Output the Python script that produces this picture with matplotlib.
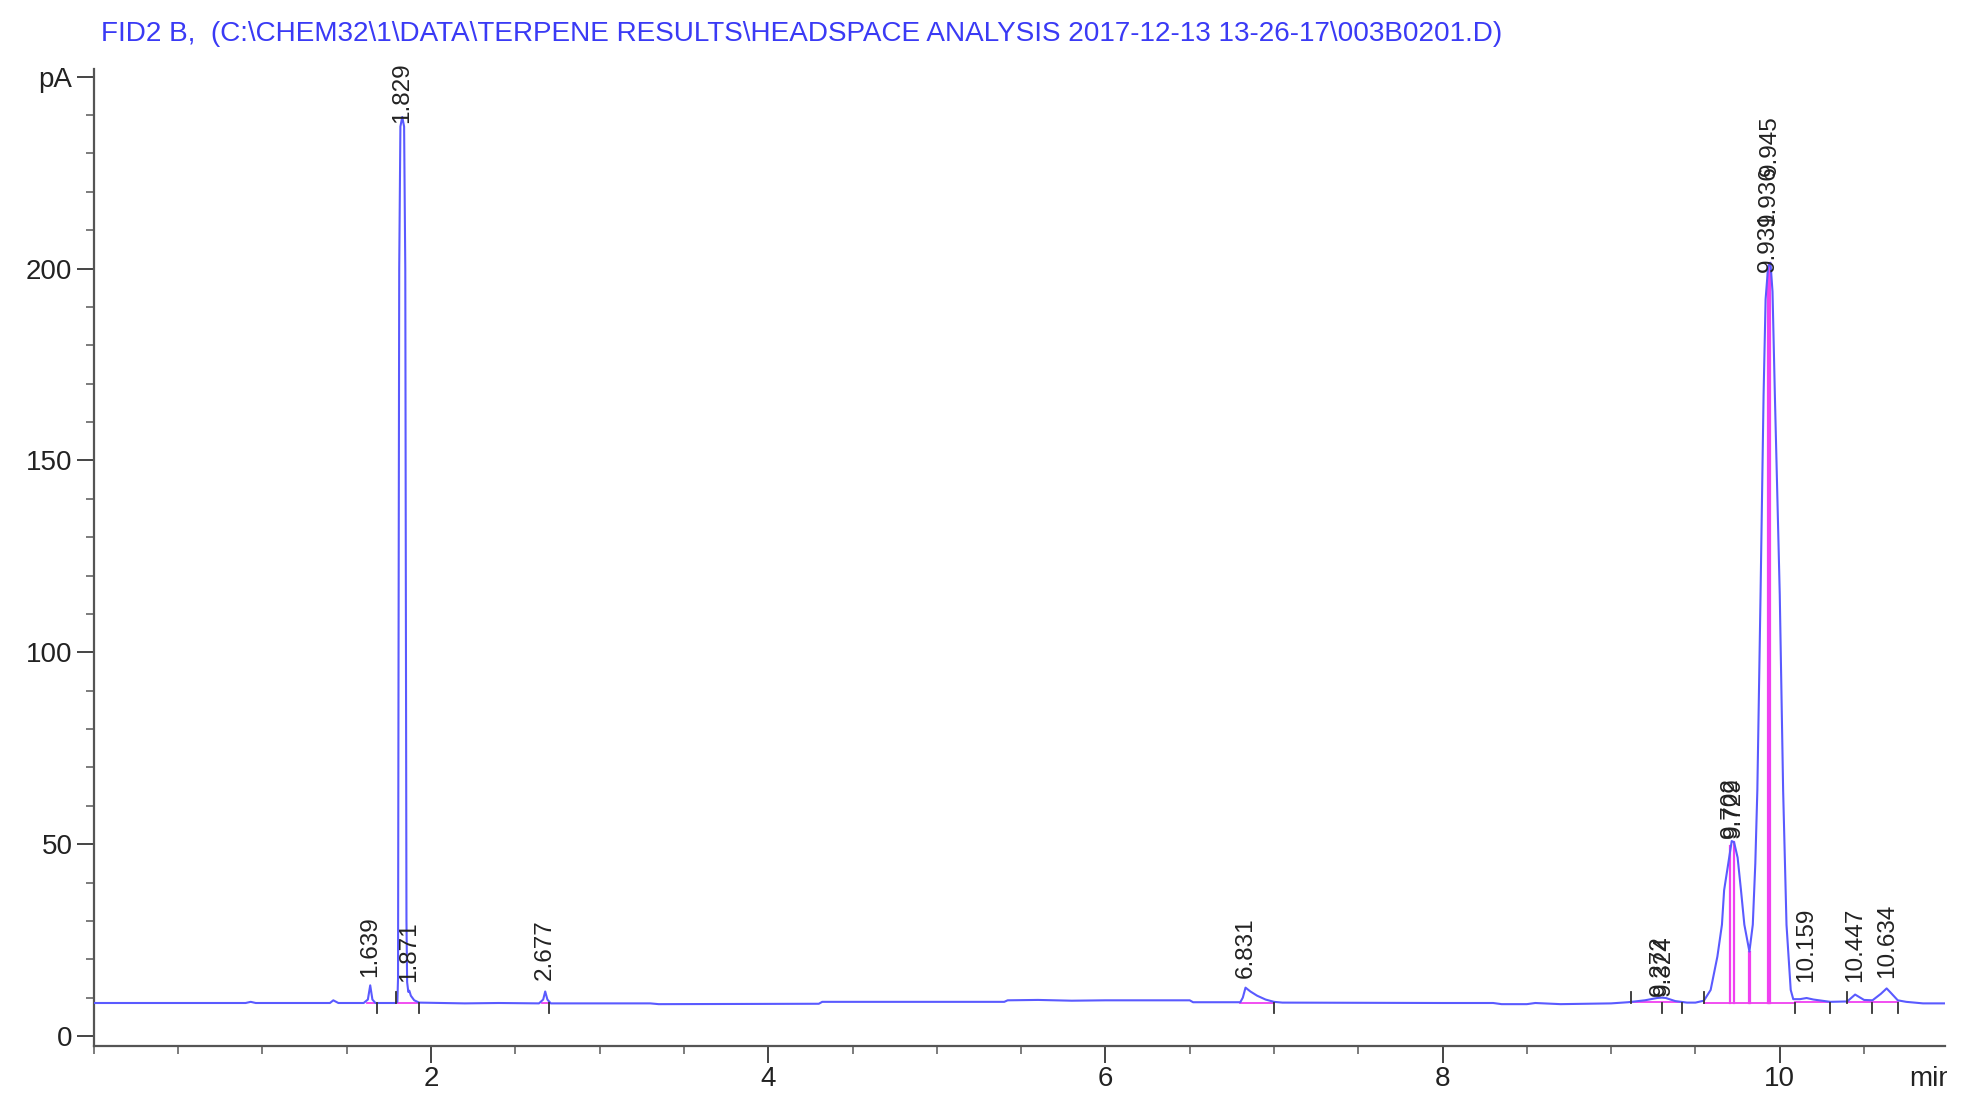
import matplotlib
matplotlib.use("Agg")
import matplotlib.pyplot as plt
from matplotlib.ticker import MultipleLocator, FixedLocator
from matplotlib.transforms import Bbox, TransformedBbox, ScaledTranslation

plt.rcParams['font.family'] = ['Liberation Sans', 'DejaVu Sans']

TITLE = "FID2 B,  (C:\\CHEM32\\1\\DATA\\TERPENE RESULTS\\HEADSPACE ANALYSIS 2017-12-13 13-26-17\\003B0201.D)"

# chromatogram trace (time in min, signal in pA)
trace_time = [0.00, 0.90, 0.93, 0.96, 1.40, 1.42, 1.45, 1.600, 1.625, 1.639, 1.652, 1.670,
              1.790, 1.800, 1.804, 1.807, 1.811, 1.818, 1.829, 1.840, 1.847, 1.851, 1.854,
              1.858, 1.865, 1.871, 1.880, 1.900, 1.930, 2.20, 2.40, 2.640, 2.665, 2.677,
              2.690, 2.710, 3.30, 3.35, 4.30, 4.32, 5.40, 5.42, 5.60, 5.80, 6.00, 6.50,
              6.52, 6.800, 6.815, 6.831, 6.860, 6.900, 6.950, 7.000, 7.050, 8.00, 8.30,
              8.35, 8.50, 8.55, 8.70, 9.00, 9.10, 9.20, 9.272, 9.300, 9.324, 9.380, 9.450,
              9.500, 9.550, 9.590, 9.630, 9.657, 9.670, 9.700, 9.715, 9.729, 9.750, 9.770,
              9.790, 9.820, 9.840, 9.855, 9.867, 9.886, 9.904, 9.916, 9.931, 9.945, 9.957,
              9.971, 10.000, 10.020, 10.040, 10.065, 10.080, 10.120, 10.159, 10.200, 10.300,
              10.400, 10.447, 10.500, 10.550, 10.600, 10.634, 10.660, 10.700, 10.750,
              10.800, 10.850, 10.98]
trace_signal = [8.6, 8.6, 8.9, 8.6, 8.6, 9.3, 8.6, 8.6, 9.5, 13.2, 9.5, 8.6,
                8.6, 8.9, 15.0, 100.0, 200.0, 237.0, 239.5, 237.0, 200.0, 100.0, 30.0,
                14.0, 11.5, 11.8, 10.5, 9.3, 8.7, 8.5, 8.6, 8.5, 9.5, 11.6,
                9.5, 8.5, 8.5, 8.3, 8.4, 8.9, 8.9, 9.3, 9.4, 9.2, 9.3, 9.3,
                8.8, 8.8, 10.0, 12.6, 11.6, 10.5, 9.5, 8.9, 8.7, 8.6, 8.6,
                8.3, 8.3, 8.6, 8.3, 8.5, 8.8, 9.3, 9.9, 10.0, 9.9, 9.1, 8.7,
                8.7, 9.2, 12.0, 20.7, 29.0, 38.0, 46.5, 50.8, 50.5, 46.5, 38.0,
                29.0, 22.0, 29.0, 45.0, 64.0, 115.0, 167.0, 192.0, 200.5, 201.5, 194.0,
                167.0, 115.0, 64.0, 29.0, 12.0, 9.6, 9.6, 9.9, 9.5, 8.9,
                9.0, 10.8, 9.4, 9.3, 11.0, 12.4, 11.2, 9.3, 8.9,
                8.7, 8.5, 8.5]

# peak labels (retention time text, x position, label start height)
peak_labels = ["1.639", "1.829", "1.871", "2.677", "6.831", "9.272", "9.324",
               "9.702", "9.729", "9.931", "9.936", "9.945", "10.159", "10.447", "10.634"]
label_x = [1.639, 1.829, 1.871, 2.677, 6.831, 9.29, 9.31,
           9.712, 9.728, 9.931, 9.936, 9.941, 10.159, 10.447, 10.634]
label_y = [15.5, 238.0, 14.0, 14.5, 15.0, 10.5, 10.5,
           51.5, 51.5, 199.0, 211.0, 224.0, 14.0, 14.0, 15.0]

# integration baselines (start, end, level) and drop lines (x, top)
base_start = [1.620, 1.800, 2.660, 6.800, 9.120, 9.550, 10.090, 10.400, 10.550]
base_end = [1.680, 1.930, 2.700, 7.000, 9.420, 10.090, 10.300, 10.550, 10.700]
base_level = [8.6, 8.6, 8.5, 8.7, 8.8, 8.7, 8.8, 8.9, 8.8]
drop_x = [9.702, 9.729, 9.818, 9.824, 9.931, 9.938, 9.945]
drop_top = [49.5, 50.5, 22.0, 22.0, 200.5, 201.0, 201.5]

# peak start / end marks
mark_up = [1.790, 9.120, 9.550, 10.400]
mark_down = [1.680, 1.930, 2.700, 7.000, 9.300, 9.420, 10.090, 10.300, 10.550, 10.700]

TRACE = "#5a5aff"
PINK = "#f040f0"
TXT = "#222222"

W, H = 1977, 1094
fig = plt.figure(figsize=(W / 100, H / 100), dpi=100)
ax = fig.add_axes([0.0475, 0.0439, 0.9363, 0.893])

for s, e, lv in zip(base_start, base_end, base_level):
    ax.plot([s, e], [lv, lv], color=PINK, lw=1.3, zorder=2)
for x, tp in zip(drop_x, drop_top):
    ax.plot([x, x], [8.7, tp], color=PINK, lw=1.6, zorder=2)

ax.plot(trace_time, trace_signal, color=TRACE, lw=1.5, zorder=3)

for x in mark_up:
    ax.plot([x, x], [8.7, 11.5], color="#333333", lw=1.3, zorder=4)
for x in mark_down:
    ax.plot([x, x], [8.7, 5.9], color="#333333", lw=1.3, zorder=4)

for t, x, y in zip(peak_labels, label_x, label_y):
    ax.text(x, y, t, rotation=90, ha="center", va="bottom", fontsize=17.5,
            color=TXT, zorder=5)

ax.set_xlim(0, 10.98)
ax.set_ylim(-2.6, 252)

for side in ("top", "right"):
    ax.spines[side].set_visible(False)
for side in ("left", "bottom"):
    ax.spines[side].set_color("#555555")
    ax.spines[side].set_linewidth(1.6)

xt = [2, 4, 6, 8, 10]
ax.xaxis.set_major_locator(FixedLocator(xt))
ax.set_xticklabels([str(v) for v in xt])
ax.xaxis.set_minor_locator(MultipleLocator(0.5))
yt = [0, 50, 100, 150, 200, 250]
ax.yaxis.set_major_locator(FixedLocator(yt))
ax.set_yticklabels(["0", "50", "100", "150", "200", "pA"])
ax.yaxis.set_minor_locator(MultipleLocator(10))

MAJ_LEN, XPAD = 12, 2.5
ax.tick_params(axis="both", which="major", direction="out", length=MAJ_LEN, width=1.4,
               color="#444444", labelsize=20, labelcolor=TXT)
ax.tick_params(axis="both", which="minor", direction="out", length=6, width=1.2,
               color="#666666")
ax.tick_params(axis="x", which="major", pad=XPAD)
ax.tick_params(axis="y", which="major", pad=3.5)

# "min" unit label on the tick-label row, clipped at the right end of the axis
off = ScaledTranslation(0, -(MAJ_LEN + XPAD) / 72, fig.dpi_scale_trans)
mn = ax.text(10.77, 0, "min", transform=ax.get_xaxis_transform() + off,
             ha="left", va="top", fontsize=20, color=TXT)
mn.set_clip_box(TransformedBbox(Bbox([[0, 0], [1947 / W, 1]]), fig.transFigure))
mn.set_clip_on(True)

fig.text(0.051, 0.969, TITLE, color="#3a3af5", fontsize=20.1, ha="left", va="center")

fig.savefig("out.png", dpi=100)
